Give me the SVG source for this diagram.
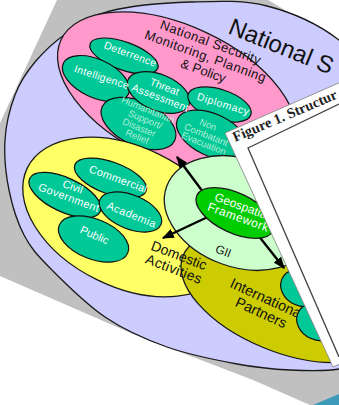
<svg xmlns="http://www.w3.org/2000/svg" width="339" height="405" viewBox="0 0 339 405">
<style>
.ol{stroke:#1a1a1a;stroke-width:1.3}
.teal{fill:#00c896;stroke:#111;stroke-width:1.2}
.w{font-family:"Liberation Sans",Arial,sans-serif;fill:#fff;font-size:10.5px;text-anchor:middle}
.pale{font-family:"Liberation Sans",Arial,sans-serif;fill:#b4efd9;font-size:9.5px;text-anchor:middle}
.b{font-family:"Liberation Sans",Arial,sans-serif;fill:#111;text-anchor:middle}
.con{stroke:#000;stroke-width:2.4;fill:none;marker-end:url(#ah)}
</style>
<defs>
<marker id="ah" viewBox="0 0 10 8" refX="9" refY="4" markerWidth="5" markerHeight="4" orient="auto" markerUnits="strokeWidth"><path d="M0,0 L10,4 L0,8 Z" fill="#000"/></marker>
</defs>
<rect width="339" height="405" fill="#fff"/>
<polygon id="backdrop" fill="#c0c0c0" points="57,0 268,0 339,42 339,405 310,405 253,380 133,334 0,276 0,123"/>
<g id="national-s">
<path fill="#ccccff" class="ol" d="M190,2 C216.2,1.2 242.2,-0.3 267,6 C291.8,12.3 318.5,24.3 339,40 C358.7,57.3 379,57.5 385,110 C391,162.5 382.7,311.8 375,355 C367.3,398.2 353.2,366.5 339,369 C324.8,371.5 307,370.8 290,370 C273,369.2 257.5,367.8 237,364 C216.5,360.2 189,354.8 167,347 C145,339.2 124.5,330.2 105,317 C85.5,303.8 63.5,281.7 50,268 C36.5,254.3 30.8,248 24,235 C17.2,222 12.2,205.8 9,190 C5.8,174.2 4,155.8 5,140 C6,124.2 10,108 15,95 C20,82 26.3,72.3 35,62 C43.7,51.7 54.5,41.5 67,33 C79.5,24.5 89.5,16.2 110,11 C130.5,5.8 163.8,2.8 190,2 Z"/>
<text x="227" y="33" transform="rotate(22 227 33)" class="b" style="text-anchor:start;font-size:24px">National S</text>
</g>
<g id="nsmpp">
<ellipse cx="177" cy="94" rx="128" ry="68" transform="rotate(25 177 94)" fill="#ff99cc" class="ol"/>
<g transform="translate(209,46.5) rotate(20)" class="b" style="font-size:13px">
<text x="0" y="0" textLength="106" lengthAdjust="spacing">National Security</text>
<text x="0" y="14.6" textLength="128" lengthAdjust="spacing">Monitoring, Planning</text>
<text x="3" y="29.2">&amp; Policy</text>
</g>
</g>
<g id="deterrence"><ellipse cx="124" cy="56" rx="36" ry="14" transform="rotate(20 124 56)" class="teal"/></g>
<g id="intelligence"><ellipse cx="96" cy="78.5" rx="36" ry="19" transform="rotate(25 96 78.5)" class="teal"/></g>
<g id="humanitarian"><ellipse cx="138.5" cy="123.5" rx="40" ry="22" transform="rotate(25 138.5 123.5)" class="teal"/></g>
<g id="threat"><ellipse cx="158.5" cy="92.5" rx="33" ry="18" transform="rotate(22 158.5 92.5)" class="teal"/></g>
<g id="diplomacy"><ellipse cx="219.5" cy="104.5" rx="33" ry="15" transform="rotate(18 219.5 104.5)" class="teal"/></g>
<g id="noncombatant"><ellipse cx="212" cy="135" rx="38" ry="21" transform="rotate(25 212 135)" class="teal"/></g>
<g id="pink-labels">
<text x="129" y="57.5" transform="rotate(20 129 57.5)" class="w" textLength="55" lengthAdjust="spacing">Deterrence</text>
<text x="100.5" y="80.5" transform="rotate(18 100.5 80.5)" class="w" textLength="57" lengthAdjust="spacing">Intelligence</text>
<g transform="translate(159,101) rotate(21)" class="w">
<text x="0" y="-11.7">Threat</text>
<text x="0" y="0" textLength="60" lengthAdjust="spacing">Assessment</text>
</g>
<text x="222" y="107.5" transform="rotate(17 222 107.5)" class="w" textLength="54" lengthAdjust="spacing">Diplomacy</text>
<g transform="translate(148,110) rotate(22)" class="pale">
<text x="0" y="3">Humanitarian</text>
<text x="1" y="13">Support/</text>
<text x="-1.6" y="22.8">Disaster</text>
<text x="0" y="32">Relief</text>
</g>
<g transform="translate(208,125) rotate(22)" class="pale">
<text x="0" y="3">Non</text>
<text x="2" y="13">Combatant</text>
<text x="3" y="22">Evacuation</text>
</g>
</g>
<g id="domestic">
<ellipse cx="128" cy="217" rx="112" ry="70" transform="rotate(26 128 217)" fill="#ffff66" class="ol"/>
</g>
<g id="commercial"><ellipse cx="110.5" cy="178" rx="38" ry="16" transform="rotate(20 110.5 178)" class="teal"/></g>
<g id="civil"><ellipse cx="65" cy="195" rx="39" ry="17" transform="rotate(25 65 195)" class="teal"/></g>
<g id="academia"><ellipse cx="130.5" cy="212" rx="33" ry="17" transform="rotate(22 130.5 212)" class="teal"/></g>
<g id="public"><ellipse cx="93.5" cy="239" rx="37" ry="20" transform="rotate(22 93.5 239)" class="teal"/></g>
<g id="yellow-labels">
<text x="117" y="182.5" transform="rotate(20 117 182.5)" class="w" style="font-size:11px" textLength="61" lengthAdjust="spacing">Commercial</text>
<g transform="translate(67.5,201) rotate(20)" class="w" style="font-size:11px">
<text x="0" y="-11.5">Civil</text>
<text x="0" y="0" textLength="64" lengthAdjust="spacing">Government</text>
</g>
<text x="130" y="218" transform="rotate(22 130 218)" class="w" style="font-size:11px" textLength="52" lengthAdjust="spacing">Academia</text>
<text x="93" y="238.5" transform="rotate(24 93 238.5)" class="w" style="font-size:11px">Public</text>
</g>
<g id="international">
<ellipse cx="285" cy="297" rx="110" ry="55" transform="rotate(22 285 297)" fill="#cccc00" class="ol"/>
<g transform="translate(265.3,303.4) rotate(24.5)" class="b" style="font-size:14.5px">
<text x="0" y="0">International</text>
<text x="0" y="15">Partners</text>
</g>
</g>
<g id="gii">
<ellipse cx="240" cy="213" rx="78" ry="54" transform="rotate(20 240 213)" fill="#ccffcc" class="ol"/>
<text x="222" y="255" transform="rotate(20 222 255)" class="b" style="font-size:12px">GII</text>
</g>
<g id="domestic-label" transform="translate(177.3,259.9) rotate(21)" class="b" style="font-size:14px">
<text x="0" y="0">Domestic</text>
<text x="0" y="14.5" textLength="59" lengthAdjust="spacing">Activities</text>
</g>
<g id="connectors">
<path class="con" d="M206,196 L177,157"/>
<path class="con" d="M212,215 L163,238"/>
<path class="con" d="M254,230 L284,268"/>
</g>
<g id="geospatial">
<ellipse cx="235" cy="213" rx="42" ry="20" transform="rotate(25 235 213)" fill="#00cc00" class="ol"/>
<g transform="translate(236.8,220.9) rotate(20)" class="w" style="font-size:12px">
<text x="0" y="-11.5">Geospatial</text>
<text x="0" y="0" textLength="64" lengthAdjust="spacing">Framework</text>
</g>
</g>
<g id="partners-members">
<ellipse cx="302" cy="288" rx="22" ry="18" transform="rotate(25 302 288)" class="teal"/>
<ellipse cx="318" cy="322" rx="22" ry="18" transform="rotate(25 318 322)" class="teal"/>
</g>
<g id="page">
<polygon points="225,133 350,78 350,359.5 333,367" fill="#fff" stroke="#8a8a8a" stroke-width="0.9"/>
<polyline points="339,104 248,148 339,357" fill="none" stroke="#444" stroke-width="1.3"/>
<text x="235" y="142" transform="rotate(-23 235 142)" style="font-family:'Liberation Serif','Times New Roman',serif;font-weight:bold;font-size:14.5px;fill:#222">Figure 1. Structur</text>
</g>
<polygon id="blue" points="313,405 339,394 339,405" fill="#3d9ab8"/>
</svg>
